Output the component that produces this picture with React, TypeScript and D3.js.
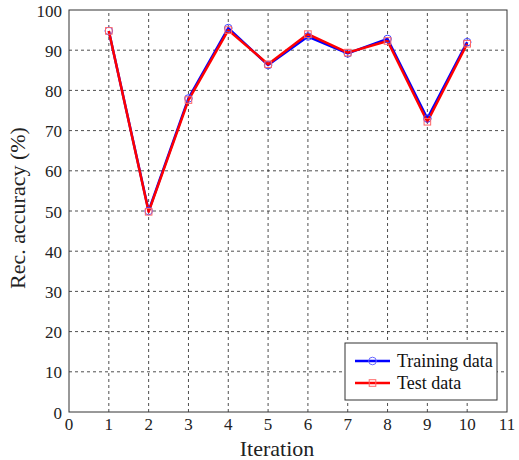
import React from 'react';
import * as d3 from 'd3';

const iterations = [1, 2, 3, 4, 5, 6, 7, 8, 9, 10];
const trainingAcc = [94.8, 50.0, 78.0, 95.5, 86.3, 93.4, 89.2, 92.8, 73.0, 92.0];
const testAcc = [94.8, 49.8, 77.6, 95.0, 86.5, 94.0, 89.4, 92.3, 72.2, 91.6];
const xTicks = [0, 1, 2, 3, 4, 5, 6, 7, 8, 9, 10, 11];
const yTicks = [0, 10, 20, 30, 40, 50, 60, 70, 80, 90, 100];

const W = 519;
const H = 460;
const margin = { left: 69, top: 10, right: 12, bottom: 48 };
const font = '"Liberation Serif", "DejaVu Serif", serif';

export default function App() {
  const x = d3.scaleLinear().domain([0, 11]).range([margin.left, W - margin.right]);
  const y = d3.scaleLinear().domain([0, 100]).range([H - margin.bottom, margin.top]);

  const lineGen = d3
    .line<number>()
    .x((_, i) => x(iterations[i]))
    .y(d => y(d));

  const [x0, x1] = x.range();
  const [y0, y1] = y.range();

  // legend box
  const lg = { x: 345, y: 343, w: 152, h: 57 };

  return (
    <svg
      width={W}
      height={H}
      style={{ position: 'fixed', left: 0, top: 0, display: 'block', background: '#fff' }}
    >
      {/* grid */}
      {xTicks.slice(1, -1).map(t => (
        <line key={'gx' + t} x1={x(t)} x2={x(t)} y1={y0} y2={y1} stroke="#222" strokeWidth={0.8} strokeDasharray="3,3" />
      ))}
      {yTicks.slice(1, -1).map(t => (
        <line key={'gy' + t} x1={x0} x2={x1} y1={y(t)} y2={y(t)} stroke="#222" strokeWidth={0.8} strokeDasharray="3,3" />
      ))}

      {/* lines */}
      <path d={lineGen(trainingAcc) || ''} fill="none" stroke="#0000ff" strokeWidth={2.5} strokeLinejoin="round" />
      <path d={lineGen(testAcc) || ''} fill="none" stroke="#ff0000" strokeWidth={2.5} strokeLinejoin="round" />
      {trainingAcc.map((v, i) => (
        <circle key={'c' + i} cx={x(iterations[i])} cy={y(v)} r={3.8} fill="none" stroke="#4444ff" strokeWidth={1} />
      ))}
      {testAcc.map((v, i) => (
        <rect key={'s' + i} x={x(iterations[i]) - 3.3} y={y(v) - 3.3} width={6.6} height={6.6} fill="none" stroke="#ff6666" strokeWidth={1} />
      ))}

      {/* axes box */}
      <rect x={x0} y={y1} width={x1 - x0} height={y0 - y1} fill="none" stroke="#333" strokeWidth={1} />

      {/* tick labels */}
      {xTicks.map(t => (
        <text key={'tx' + t} x={x(t)} y={y0 + 18} textAnchor="middle" fontFamily={font} fontSize={17} fill="#222">
          {t}
        </text>
      ))}
      {yTicks.map(t => (
        <text key={'ty' + t} x={x0 - 7} y={y(t) + 6.5} textAnchor="end" fontFamily={font} fontSize={17} fill="#222">
          {t}
        </text>
      ))}

      {/* axis titles */}
      <text x={277} y={456} textAnchor="middle" fontFamily={font} fontSize={22} fill="#222">
        Iteration
      </text>
      <text
        transform={`translate(25, 208) rotate(-90)`}
        textAnchor="middle"
        fontFamily={font}
        fontSize={22}
        fill="#222"
      >
        Rec. accuracy (%)
      </text>

      {/* legend */}
      <rect x={lg.x} y={lg.y} width={lg.w} height={lg.h} fill="#fff" stroke="#333" strokeWidth={1} />
      <line x1={lg.x + 10} x2={lg.x + 45} y1={lg.y + 18} y2={lg.y + 18} stroke="#0000ff" strokeWidth={2.5} />
      <circle cx={lg.x + 27.5} cy={lg.y + 18} r={3.8} fill="none" stroke="#6666ff" strokeWidth={1} />
      <text x={lg.x + 52} y={lg.y + 24} fontFamily={font} fontSize={18} fill="#111">
        Training data
      </text>
      <line x1={lg.x + 10} x2={lg.x + 45} y1={lg.y + 40} y2={lg.y + 40} stroke="#ff0000" strokeWidth={2.5} />
      <rect x={lg.x + 24.2} y={lg.y + 36.7} width={6.6} height={6.6} fill="none" stroke="#ff6666" strokeWidth={1} />
      <text x={lg.x + 52} y={lg.y + 46} fontFamily={font} fontSize={18} fill="#111">
        Test data
      </text>
    </svg>
  );
}
